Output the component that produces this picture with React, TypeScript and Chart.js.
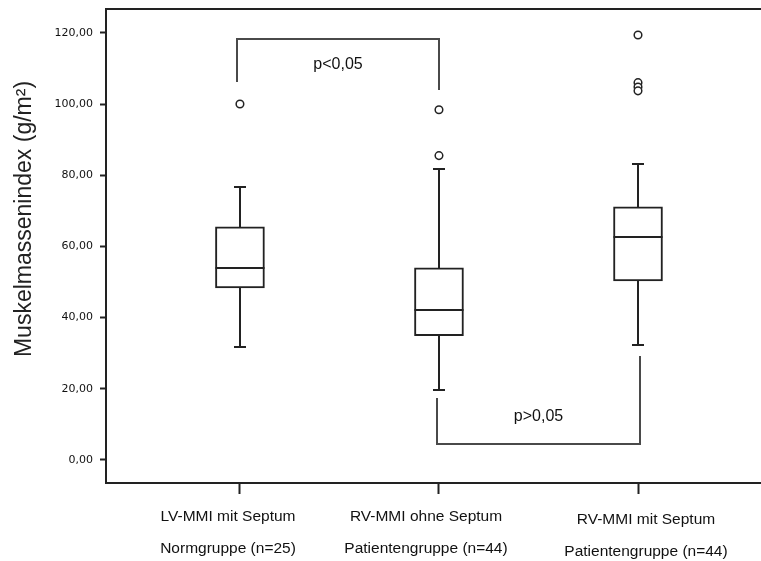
import React, { useEffect, useRef } from "react";
import { Chart, registerables } from "chart.js";

Chart.register(...registerables);

// Group labels (two lines each) and their positions on the x axis
const categories: string[][] = [
  ["LV-MMI mit Septum", "Normgruppe (n=25)"],
  ["RV-MMI ohne Septum", "Patientengruppe (n=44)"],
  ["RV-MMI mit Septum", "Patientengruppe (n=44)"],
];
const positions = [1, 2, 3];

// Box plot statistics per group (g/m²)
const whiskerLow = [31.8, 19.7, 32.3];
const q1 = [48.3, 34.9, 50.3];
const median = [54.0, 42.2, 62.7];
const q3 = [65.5, 54.0, 71.1];
const whiskerHigh = [76.7, 81.8, 83.2];
const outliers: number[][] = [[100.0], [98.4, 85.5], [119.4, 106.0, 104.8, 103.7]];

// Y axis ticks
const yTicks = [0, 20, 40, 60, 80, 100, 120];

// Significance brackets: label, x span, bracket level and leg ends
const bracketLabels = ["p<0,05", "p>0,05"];
const bracketXStart = [0.985, 1.99];
const bracketXEnd = [2.0, 3.01];
const bracketLevel = [118.3, 4.5];
const bracketStartEnd = [106.2, 17.4];
const bracketEndEnd = [104.0, 29.2];

const INK = "#222222";
const BRACKET = "#4a4a4a";
const TEXT = "#111111";
const SANS = "'Liberation Sans', Arial, sans-serif";
const BOX_W = 49;
const CAP_W = 12;
// placement of each group label relative to its tick (px)
const LABEL_SHIFT_X = [-12, -13, 8];
const LABEL_SHIFT_Y = [0, 0, 3];

const boxParts = {
  id: "boxParts",
  afterDatasetsDraw(chart: any) {
    const { ctx, chartArea } = chart;
    const xs = chart.scales.x;
    const ys = chart.scales.y;
    const Y = (v: number) => Math.round(ys.getPixelForValue(v));
    const X = (v: number) => Math.round(xs.getPixelForValue(v));
    const seg = (x1: number, y1: number, x2: number, y2: number) => {
      ctx.beginPath();
      ctx.moveTo(x1, y1);
      ctx.lineTo(x2, y2);
      ctx.stroke();
    };
    ctx.save();
    ctx.strokeStyle = INK;
    ctx.lineWidth = 2;
    ctx.lineCap = "butt";
    positions.forEach((p, i) => {
      const cx = X(p);
      const h = BOX_W / 2;
      seg(cx - h, Y(median[i]), cx + h, Y(median[i]));
      seg(cx, Y(q3[i]), cx, Y(whiskerHigh[i]));
      seg(cx - CAP_W / 2, Y(whiskerHigh[i]), cx + CAP_W / 2, Y(whiskerHigh[i]));
      seg(cx, Y(q1[i]), cx, Y(whiskerLow[i]));
      seg(cx - CAP_W / 2, Y(whiskerLow[i]), cx + CAP_W / 2, Y(whiskerLow[i]));
    });

    // frame top edge
    seg(chartArea.left - 1, chartArea.top, chartArea.right, chartArea.top);

    // significance brackets
    ctx.strokeStyle = BRACKET;
    ctx.fillStyle = TEXT;
    ctx.font = `16px ${SANS}`;
    ctx.textAlign = "center";
    ctx.textBaseline = "middle";
    bracketLabels.forEach((label, i) => {
      const x1 = X(bracketXStart[i]);
      const x2 = X(bracketXEnd[i]);
      const yl = Y(bracketLevel[i]);
      ctx.beginPath();
      ctx.moveTo(x1, Y(bracketStartEnd[i]));
      ctx.lineTo(x1, yl);
      ctx.lineTo(x2, yl);
      ctx.lineTo(x2, Y(bracketEndEnd[i]));
      ctx.stroke();
      const ty = i === 0 ? yl + 26 : yl - 27;
      ctx.fillText(label, (x1 + x2) / 2, ty);
    });

    // group labels under the x axis
    ctx.font = `15.5px ${SANS}`;
    ctx.textBaseline = "middle";
    positions.forEach((p, i) => {
      const cx = X(p) + LABEL_SHIFT_X[i];
      categories[i].forEach((line, k) => {
        ctx.fillText(line, cx, chartArea.bottom + 34 + LABEL_SHIFT_Y[i] + k * 32);
      });
    });

    // y axis title
    ctx.save();
    ctx.translate(25, (chartArea.top + chartArea.bottom) / 2 - 27);
    ctx.rotate(-Math.PI / 2);
    ctx.font = `23px ${SANS}`;
    ctx.fillStyle = "#222222";
    ctx.fillText("Muskelmassenindex (g/m²)", 0, 0);
    ctx.restore();

    ctx.restore();
  },
};

export default function App() {
  const ref = useRef<HTMLCanvasElement | null>(null);

  useEffect(() => {
    if (!ref.current) return;
    const boxData = positions.map((p, i) => ({ x: p, y: [q1[i], q3[i]] }));
    const outlierData: { x: number; y: number }[] = [];
    outliers.forEach((list, i) => list.forEach((v) => outlierData.push({ x: positions[i], y: v })));

    const chart = new Chart(ref.current, {
      type: "bar",
      data: {
        datasets: [
          {
            type: "bar",
            data: boxData as any,
            backgroundColor: "#ffffff",
            borderColor: INK,
            borderWidth: 2,
            borderSkipped: false,
            barThickness: BOX_W,
            grouped: false,
          } as any,
          {
            type: "scatter",
            data: outlierData,
            pointStyle: "circle",
            pointRadius: 3.8,
            pointBackgroundColor: "#ffffff",
            pointBorderColor: INK,
            pointBorderWidth: 1.5,
            showLine: false,
          } as any,
        ],
      },
      options: {
        responsive: false,
        animation: false,
        events: [],
        layout: { autoPadding: false, padding: { top: 9, left: 0, right: 0, bottom: 0 } },
        plugins: { legend: { display: false }, tooltip: { enabled: false } },
        scales: {
          x: {
            type: "linear",
            offset: false,
            min: 0.327,
            max: 3.618,
            afterBuildTicks: (scale: any) => {
              scale.ticks = positions.map((v) => ({ value: v }));
            },
            afterFit: (scale: any) => {
              scale.height = 78;
              scale.paddingLeft = 0;
              scale.paddingRight = 0;
            },
            grid: {
              offset: false,
              drawOnChartArea: false,
              drawTicks: true,
              tickLength: 11,
              tickWidth: 2,
              tickColor: INK,
            },
            border: { display: true, color: INK, width: 2 },
            ticks: {
              display: true,
              autoSkip: false,
              maxRotation: 0,
              callback: () => "",
            },
          },
          y: {
            type: "linear",
            min: -6.5,
            max: 126.7,
            afterBuildTicks: (scale: any) => {
              scale.ticks = yTicks.map((v) => ({ value: v }));
            },
            afterFit: (scale: any) => {
              scale.width = 106;
              scale.paddingTop = 0;
              scale.paddingBottom = 0;
            },
            grid: {
              drawOnChartArea: false,
              drawTicks: true,
              tickLength: 6,
              tickWidth: 2,
              tickColor: INK,
            },
            border: { display: true, color: INK, width: 2 },
            ticks: {
              padding: 7,
              color: TEXT,
              font: { family: "'DejaVu Sans', sans-serif", size: 11 },
              callback: (v: any) => Number(v).toFixed(2).replace(".", ","),
            },
          },
        },
      },
      plugins: [boxParts],
    } as any);
    return () => chart.destroy();
  }, []);

  return (
    <div style={{ position: "fixed", left: 0, top: 0, width: 761, height: 561, background: "#ffffff" }}>
      <canvas ref={ref} width={761} height={561} style={{ display: "block" }} />
    </div>
  );
}
